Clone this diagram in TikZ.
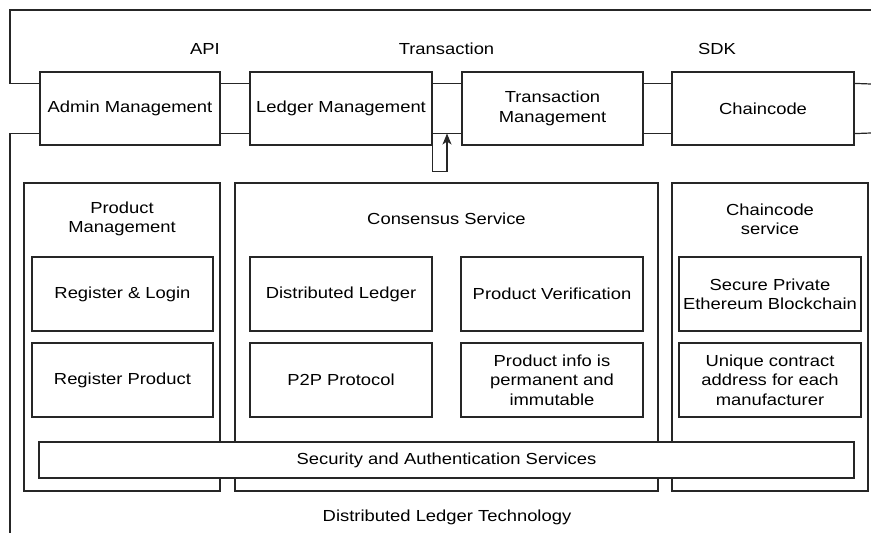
\documentclass[tikz,border=0pt]{standalone}
\usepackage{fontspec}
\setmainfont{Liberation Sans}[FakeStretch=1.15]
\usetikzlibrary{arrows.meta,positioning,calc}

\tikzset{
    blk/.style={draw=black!85, line width=1.2pt, fill=white, text=black, align=center,
        minimum width=182pt, minimum height=74pt, inner sep=1pt},
    topblk/.style={blk, minimum height=73pt},
    outer/.style={draw=black!85, line width=1.2pt, minimum width=196pt, minimum height=308pt},
    lbl/.style={align=center, inner sep=0pt, text=black},
    bus/.style={draw=black!85, line width=1.2pt},
}

\begin{document}
\begin{tikzpicture}[x=1pt, y=-1pt, font=\fontsize{16}{19.3}\selectfont]
    \useasboundingbox (0,0) rectangle (871,533);

    % top row
    \node[topblk, minimum width=180pt] (admin) at (130,108.5) {Admin Management};
    \node[topblk] (ledger) at (341,108.5) {Ledger Management};
    \node[topblk, minimum width=181pt] (trans) at (552.5,108.5) {Transaction\\Management};
    \node[topblk] (chain) at (763,108.5) {Chaincode};

    \node[lbl, anchor=base] (api) at (205,54) {API};
    \node[lbl, anchor=base] (txn) at (446.5,54) {Transaction};
    \node[lbl, anchor=base] (sdk) at (717,54) {SDK};

    \coordinate (tl) at (10,10);
    \coordinate (tr) at (871,10);
    \coordinate (bl) at (10,533);
    \coordinate (busr1) at (871,84);
    \coordinate (busr2) at (871,133);
    \coordinate (busin) at (447,133.5);

    \draw[bus] (tr) -- (tl) |- ([yshift=-12pt]admin.north west);
    \draw[bus] (bl) |- ([yshift=12pt]admin.south west);
    \foreach \a/\b in {admin/ledger, ledger/trans, trans/chain} {
        \draw[bus] ([yshift=-12pt]\a.north east) -- ([yshift=-12pt]\b.north west);
        \draw[bus] ([yshift=12pt]\a.south east) -- ([yshift=12pt]\b.south west);
    }
    \draw[bus] ([yshift=-12pt]chain.north east) -- (busr1);
    \draw[bus] ([yshift=12pt]chain.south east) -- (busr2);
    \draw[bus, -{Stealth[length=11pt,width=9pt,inset=3pt]}] (ledger.south east) -- ++(0,26) -| (busin);

    % services
    \node[outer] (prod) at (122,337) {};
    \node[outer, minimum width=423pt] (cons) at (446.5,337) {};
    \node[outer] (ccsvc) at (770,337) {};

    \node[lbl] (prodT) at (122,219) {Product\\Management};
    \node[lbl] (consT) at (446.5,219) {Consensus Service};
    \node[lbl] (ccsvcT) at (770,219) {Chaincode\\service};

    \node[blk, minimum width=181pt] (reglog) at (122.5,294) {Register \& Login};
    \node[blk, minimum width=181pt] (regprod) at (122.5,380) {Register Product};
    \node[blk] (distl) at (341,294) {Distributed Ledger};
    \node[blk] (p2p) at (341,380) {P2P Protocol};
    \node[blk] (verif) at (552,294) {Product Verification};
    \node[blk] (info) at (552,380) {Product info is\\permanent and\\immutable};
    \node[blk] (secure) at (770,294) {Secure Private\\Ethereum Blockchain};
    \node[blk] (unique) at (770,380) {Unique contract\\address for each\\manufacturer};

    \node[blk, minimum width=815pt, minimum height=36pt] (auth) at (446.5,460) {Security and Authentication Services};

    \node[lbl, anchor=base] (dlt) at (447,521) {Distributed Ledger Technology};
\end{tikzpicture}
\end{document}
